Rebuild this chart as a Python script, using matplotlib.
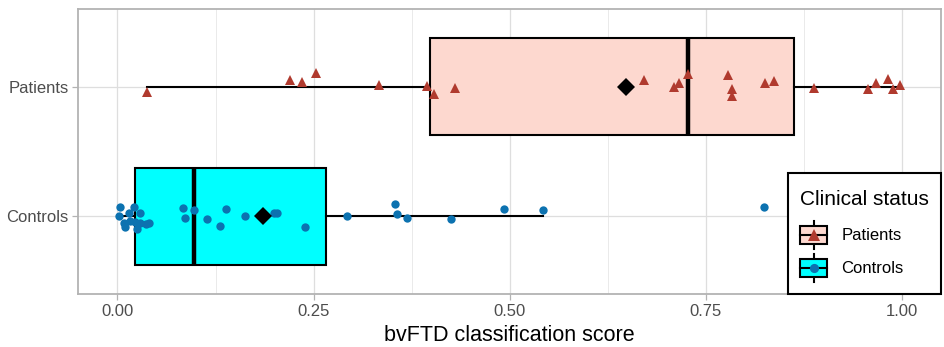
import matplotlib
matplotlib.use("Agg")
import matplotlib.pyplot as plt
from matplotlib.patches import Rectangle, Patch
from matplotlib.lines import Line2D
from matplotlib.legend_handler import HandlerBase
from matplotlib.offsetbox import VPacker, DrawingArea

plt.rcParams['font.family'] = ['Liberation Sans', 'DejaVu Sans']

# groups (top to bottom)
groups = ["Patients", "Controls"]
group_pos = [2, 1]

# box summaries
whislo = [0.0375, 0.002]
q1 = [0.399, 0.0226]
med = [0.728, 0.0974]
q3 = [0.862, 0.266]
whishi = [0.998, 0.543]
means = [0.649, 0.185]

# individual scores and their vertical jitter
patients_score = [0.0375, 0.220, 0.235, 0.253, 0.334, 0.3946, 0.404, 0.430,
                  0.671, 0.709, 0.7156, 0.728, 0.779, 0.783, 0.784, 0.825,
                  0.837, 0.888, 0.9575, 0.9677, 0.983, 0.989, 0.998]
patients_jit = [-0.038, 0.052, 0.036, 0.11, 0.013, 0.005, -0.056, -0.008,
                0.052, -0.005, 0.031, 0.098, 0.09, -0.02, -0.069, 0.026,
                0.044, -0.012, -0.018, 0.026, 0.057, -0.02, 0.013]
controls_score = [0.0036, 0.0217, 0.015, 0.029, 0.002, 0.0077, 0.0098, 0.016,
                  0.0226, 0.0255, 0.029, 0.0366, 0.0404, 0.083, 0.0855, 0.0974,
                  0.114, 0.131, 0.1387, 0.163, 0.200, 0.204, 0.2386, 0.2926,
                  0.354, 0.357, 0.3695, 0.4256, 0.4934, 0.543, 0.8246]
controls_jit = [0.071, 0.075, 0.029, 0.029, 0.0, -0.052, -0.083, -0.032,
                -0.04, -0.096, -0.052, -0.058, -0.052, 0.063, -0.014, 0.05,
                -0.022, -0.071, 0.06, 0.0, 0.025, 0.025, -0.078, 0.0,
                0.094, 0.019, -0.012, -0.017, 0.055, 0.052, 0.071]

box_fill = ["#FDD8CF", "#00FFFF"]
pt_color = ["#B03A2E", "#0C72B0"]
pt_marker = ["^", "o"]
pt_size = [7.5, 6]

fig = plt.figure(figsize=(9.44, 3.47), dpi=100)
ax = fig.add_axes([0.0829, 0.152, 0.9139, 0.822])

stats = []
for i, g in enumerate(groups):
    stats.append(dict(label=g, whislo=whislo[i], q1=q1[i], med=med[i],
                      q3=q3[i], whishi=whishi[i], fliers=[]))

bp = ax.bxp(stats, positions=group_pos, widths=0.75, vert=False,
            patch_artist=True, showcaps=False, showfliers=False,
            boxprops=dict(edgecolor="black", linewidth=1.5),
            whiskerprops=dict(color="black", linewidth=1.5),
            medianprops=dict(color="black", linewidth=3.2),
            zorder=2)
for patch, c in zip(bp["boxes"], box_fill):
    patch.set_facecolor(c)

pts = [(patients_score, patients_jit), (controls_score, controls_jit)]
for i, (xs, js) in enumerate(pts):
    ys = [group_pos[i] + j for j in js]
    ax.plot(xs, ys, linestyle="none", marker=pt_marker[i], color=pt_color[i],
            markersize=pt_size[i], markeredgewidth=0, zorder=4)

ax.plot(means, group_pos, linestyle="none", marker="D", color="black",
        markersize=9, markeredgewidth=0, zorder=5)

ax.set_xlim(-0.05, 1.05)
ax.set_ylim(0.4, 2.6)
ax.set_xticks([0, 0.25, 0.5, 0.75, 1.0])
ax.set_xticklabels(["0.00", "0.25", "0.50", "0.75", "1.00"])
ax.set_xticks([0.125, 0.375, 0.625, 0.875], minor=True)
ax.set_yticks(group_pos)
ax.set_yticklabels(groups)
ax.grid(True, which="major", color="#DEDEDE", linewidth=0.9, zorder=0)
ax.grid(True, which="minor", axis="x", color="#E6E6E6", linewidth=0.6, zorder=0)
ax.set_axisbelow(True)
ax.tick_params(which="major", length=4, width=0.9, color="#B3B3B3",
               labelsize=12, labelcolor="#4D4D4D", pad=3)
ax.tick_params(which="minor", length=0)
for s in ax.spines.values():
    s.set_color("#B3B3B3")
    s.set_linewidth(1.3)
ax.set_xlabel("bvFTD classification score", fontsize=15.5, labelpad=4)


class BoxKey(HandlerBase):
    def __init__(self, fill, marker, color, ms):
        super().__init__()
        self.fill, self.marker, self.color, self.ms = fill, marker, color, ms

    def create_artists(self, legend, orig_handle, xdescent, ydescent,
                       width, height, fontsize, trans):
        x0, y0 = -xdescent, -ydescent
        cx, cy = x0 + width / 2, y0 + height / 2
        bh = height * 0.62
        rect = Rectangle((x0, cy - bh / 2), width, bh, facecolor=self.fill,
                         edgecolor="black", linewidth=1.5, transform=trans)
        mline = Line2D([x0, x0 + width], [cy, cy], color="black", lw=1.5,
                       transform=trans)
        w1 = Line2D([cx, cx], [cy + bh / 2, y0 + height], color="black",
                    lw=1.5, transform=trans)
        w2 = Line2D([cx, cx], [y0, cy - bh / 2], color="black", lw=1.5,
                    transform=trans)
        mk = Line2D([cx], [cy], marker=self.marker, color=self.color,
                    markersize=self.ms * 1.1, markeredgewidth=0,
                    linestyle="none", transform=trans)
        return [w1, w2, rect, mline, mk]


handles = [Patch(), Patch()]
hmap = {handles[i]: BoxKey(box_fill[i], pt_marker[i], pt_color[i], pt_size[i])
        for i in range(2)}
leg = ax.legend(handles, groups, handler_map=hmap, loc="lower right",
                bbox_to_anchor=(1, 0), borderaxespad=0, fontsize=12,
                title="Clinical status", title_fontsize=15, alignment="left",
                handlelength=1.62, handleheight=2.24, handletextpad=0.85,
                labelspacing=0.3, borderpad=0.72, fancybox=False,
                framealpha=1, edgecolor="black")
leg.get_frame().set_linewidth(1.5)
# a little extra room above the legend title
title_block = VPacker(pad=0, sep=0, align="left",
                      children=[DrawingArea(1, 3), leg._legend_title_box])
leg._legend_box._children[0] = title_block
leg._legend_box.sep = 8.6
leg._legend_box.set_figure(fig)

fig.savefig("out.png", dpi=100)
